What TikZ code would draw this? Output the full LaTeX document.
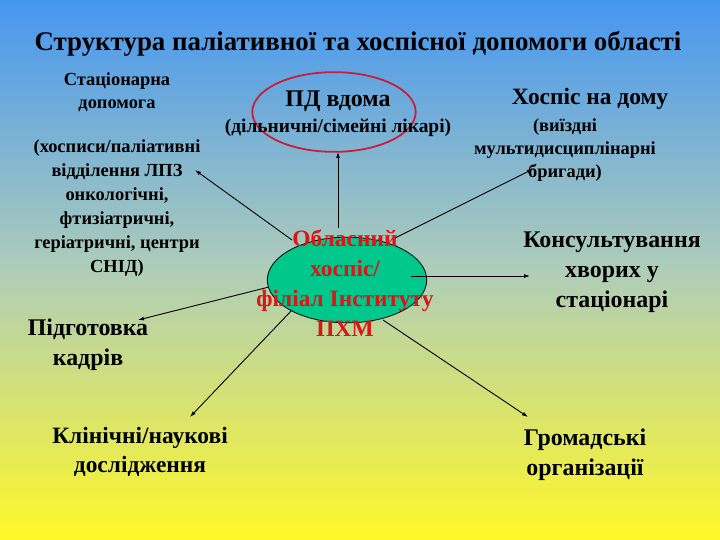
\documentclass[tikz,border=0pt]{standalone}
\usepackage{fontspec}
\setmainfont{Liberation Serif}
\usetikzlibrary{shapes.geometric,arrows.meta}
\begin{document}
\begin{tikzpicture}[x=1bp,y=-1bp,
  lbl/.style={font=\bfseries, align=center, inner sep=0pt},
  s15/.style={font=\fontsize{18.5}{23}\selectfont\bfseries},
  s20/.style={font=\fontsize{23.5}{29}\selectfont\bfseries},
  s21/.style={font=\fontsize{24}{30}\selectfont\bfseries},
  conn/.style={draw=black, line width=0.9pt, -{Latex[length=6pt,width=4pt]}}]
\shade[top color={rgb,255:red,70;green,150;blue,240}, bottom color={rgb,255:red,255;green,248;blue,40}, middle color={rgb,255:red,175;green,205;blue,185}] (0,0) rectangle (720,540);
\useasboundingbox (0,0) rectangle (720,540);
\node[lbl,font=\fontsize{27}{30}\selectfont\bfseries] (title) at (358,44) {Структура паліативної та хоспісної допомоги області};
\node[lbl,s15] (stat) at (117,92) {Стаціонарна\\допомога};
\node[lbl,font=\fontsize{18.5}{24}\selectfont\bfseries] (hosp) at (117,208) {(хосписи/паліативні\\відділення ЛПЗ\\онкологічні,\\фтизіатричні,\\геріатричні, центри\\СНІД)};
\node[lbl,s21] (kadr) at (88,345) {Підготовка\\кадрів};
\node[lbl,s20] (klin) at (140,452) {Клінічні/наукові\\дослідження};
\node[draw={rgb,255:red,200;green,30;blue,60}, line width=1.8pt, ellipse, minimum width=164, minimum height=80, inner sep=0pt] (pdel) at (334,112) {};
\node[lbl,s21] (pd) at (338,101) {ПД вдома};
\node[lbl,font=\fontsize{19.5}{22}\selectfont\bfseries] (pdsub) at (338,128) {(дільничні/сімейні лікарі)};
\node[lbl,s20] (hd) at (590,99) {Хоспіс на дому};
\node[lbl,s15] (hdsub) at (565,150) {(виїздні\\мультидисциплінарні\\бригади)};
\node[lbl,s21] (kons) at (612,272) {Консультування\\хворих у\\стаціонарі};
\node[lbl,s21] (grom) at (585,455) {Громадські\\організації};
\node[draw=black, line width=0.8pt, fill={rgb,255:red,0;green,200;blue,140}, ellipse, minimum width=160, minimum height=86, inner sep=0pt] (center) at (347,280) {};
\coordinate (a1) at (338,152);
\coordinate (a2) at (195,170);
\coordinate (a3) at (533,169);
\coordinate (a4) at (530,276);
\coordinate (a5) at (138,320);
\coordinate (a6) at (190,417);
\coordinate (a7) at (528,417);
\coordinate (s1) at (338,228);
\coordinate (s2) at (292,240);
\coordinate (s3) at (395,238);
\coordinate (s4) at (411,276);
\coordinate (s5) at (269,287);
\coordinate (s6) at (292,310);
\coordinate (s7) at (383,320);
\draw[conn] (s1) -- (a1);
\draw[conn] (s2) -- (a2);
\draw[conn] (s3) -- (a3);
\draw[conn] (s4) -- (a4);
\draw[conn] (s5) -- (a5);
\draw[conn] (s6) -- (a6);
\draw[conn] (s7) -- (a7);
\node[lbl,text={rgb,255:red,220;green,20;blue,20},font=\fontsize{23.5}{30}\selectfont\bfseries] (ctext) at (345,283) {Обласний\\хоспіс/\\філіал Інституту\\ПХМ};
\end{tikzpicture}
\end{document}
